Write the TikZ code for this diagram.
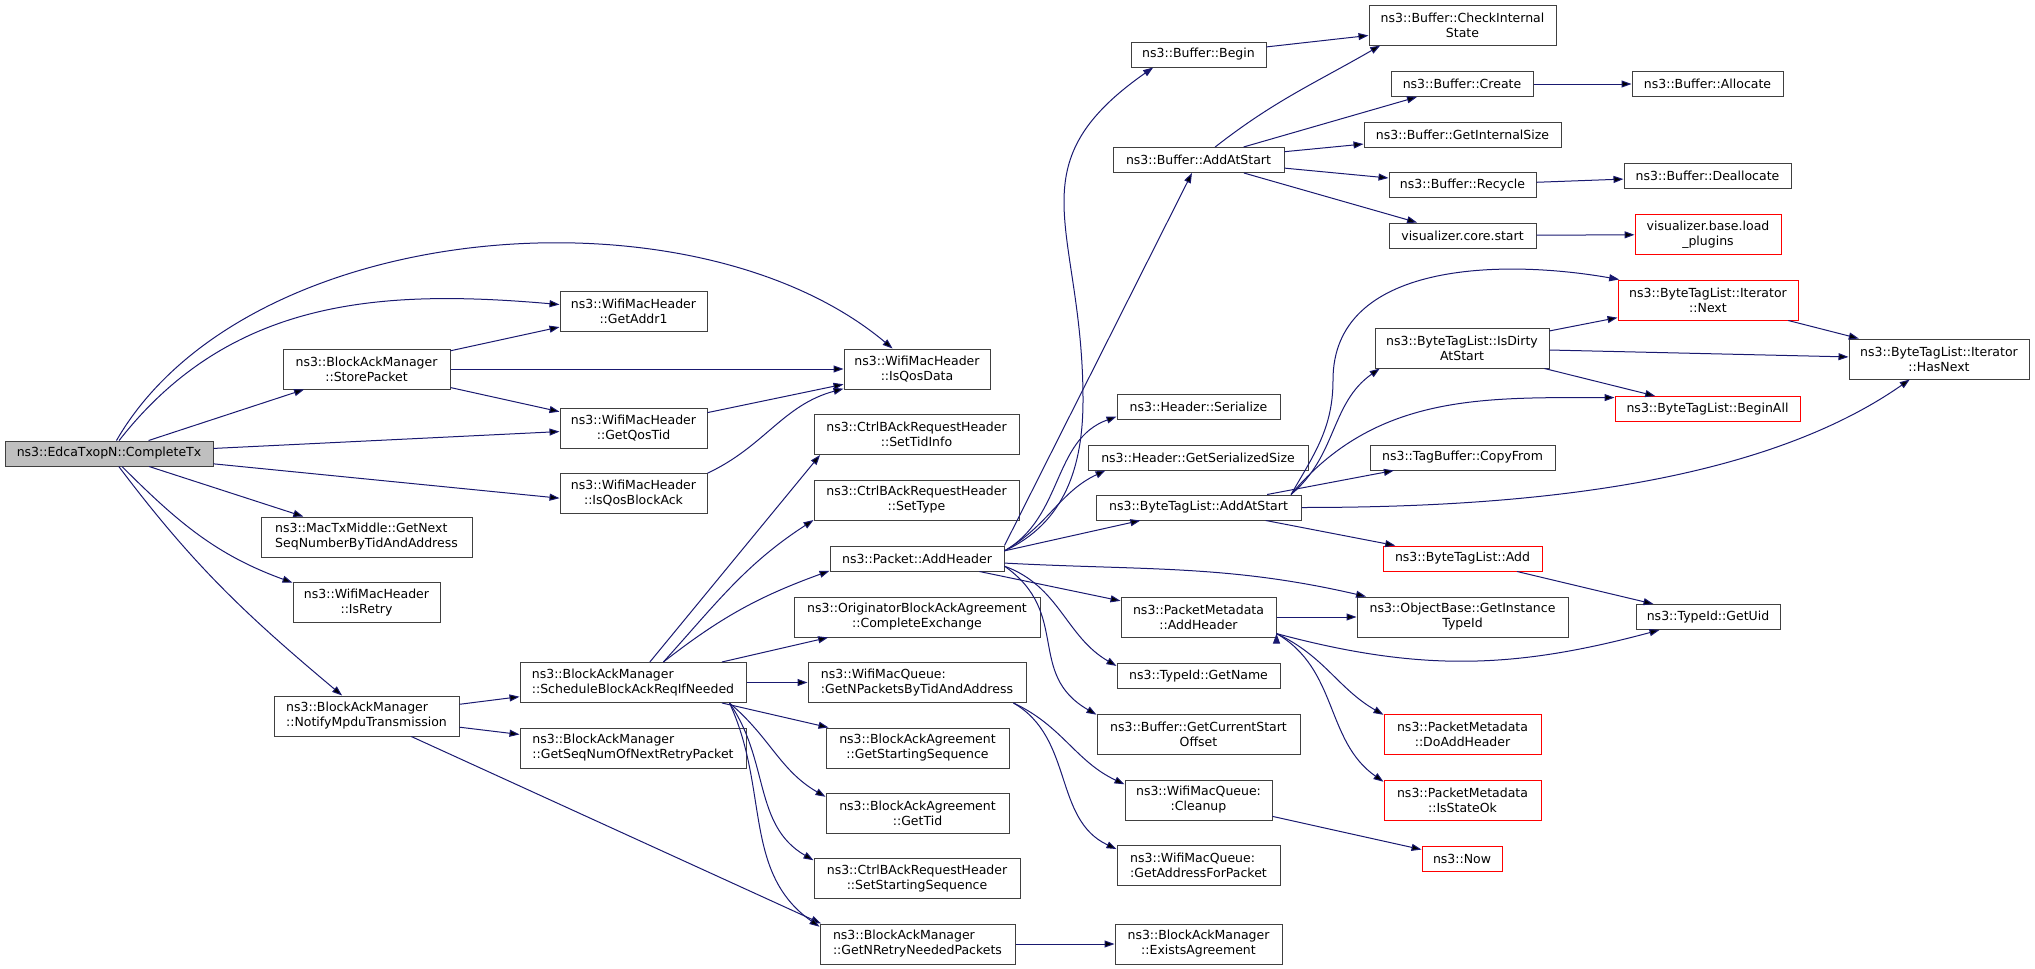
\documentclass[tikz,border=0pt]{standalone}
\usepackage{fontspec}
\setmainfont{DejaVu Sans}
\usetikzlibrary{arrows.meta, positioning, shapes}
\definecolor{edgeblue}{HTML}{191970}
\definecolor{boxline}{HTML}{404040}
\tikzset{->, >={Triangle[length=10pt,width=7pt]},
  func/.style={draw=boxline, line width=1pt, fill=white, minimum height=25pt, inner sep=1pt, align=center, font=\fontsize{12.5}{15}\selectfont},
  two/.style={func, minimum height=40pt},
  left/.style={align=left},
  missing/.style={draw=red},
  call/.style={draw=edgeblue, line width=1pt}}

\begin{document}
\begin{tikzpicture}[x=1pt, y=-1pt]
        \useasboundingbox (0,0) rectangle (2035,969);
        \node[func, fill=black!25, minimum width=208] (complete-tx) at (109,453.5) {ns3::EdcaTxopN::CompleteTx};
        \node[two, minimum width=167] (store-packet) at (366.5,369) {ns3::BlockAckManager\\::StorePacket};
        \node[two, minimum width=211, left] (next-seq) at (366.5,537) {ns3::MacTxMiddle::GetNext\\SeqNumberByTidAndAddress};
        \node[two, minimum width=147] (is-retry) at (366.5,602.5) {ns3::WifiMacHeader\\::IsRetry};
        \node[two, minimum width=185, left] (notify) at (366.5,716) {ns3::BlockAckManager\\::NotifyMpduTransmission};
        \node[two, minimum width=147] (get-addr1) at (633.5,311) {ns3::WifiMacHeader\\::GetAddr1};
        \node[two, minimum width=147] (get-qos-tid) at (633.5,428) {ns3::WifiMacHeader\\::GetQosTid};
        \node[two, minimum width=147] (is-qos-back) at (633.5,493) {ns3::WifiMacHeader\\::IsQosBlockAck};
        \node[two, minimum width=226, left] (schedule) at (633,682.5) {ns3::BlockAckManager\\::ScheduleBlockAckReqIfNeeded};
        \node[two, minimum width=226, left] (next-retry) at (633,748) {ns3::BlockAckManager\\::GetSeqNumOfNextRetryPacket};
        \node[two, minimum width=146] (is-qos-data) at (917,369) {ns3::WifiMacHeader\\::IsQosData};
        \node[two, minimum width=205] (set-tid-info) at (916.5,434.5) {ns3::CtrlBAckRequestHeader\\::SetTidInfo};
        \node[two, minimum width=205] (set-type) at (916.5,500) {ns3::CtrlBAckRequestHeader\\::SetType};
        \node[func, minimum width=174] (packet-add) at (917,558.5) {ns3::Packet::AddHeader};
        \node[two, minimum width=246] (complete-exchange) at (917,617) {ns3::OriginatorBlockAckAgreement\\::CompleteExchange};
        \node[two, minimum width=218, left] (get-npackets) at (917,682.5) {ns3::WifiMacQueue:\\:GetNPacketsByTidAndAddress};
        \node[two, minimum width=183] (starting-seq) at (917.5,748) {ns3::BlockAckAgreement\\::GetStartingSequence};
        \node[two, minimum width=183] (get-tid) at (917.5,813) {ns3::BlockAckAgreement\\::GetTid};
        \node[two, minimum width=206] (set-starting) at (917,878.5) {ns3::CtrlBAckRequestHeader\\::SetStartingSequence};
        \node[two, minimum width=195, left] (nretry) at (917.5,944) {ns3::BlockAckManager\\::GetNRetryNeededPackets};
        \node[func, minimum width=135] (buffer-begin) at (1198.5,54.5) {ns3::Buffer::Begin};
        \node[func, minimum width=171] (buffer-add) at (1198.5,160) {ns3::Buffer::AddAtStart};
        \node[func, minimum width=163] (serialize) at (1198.5,406.5) {ns3::Header::Serialize};
        \node[func, minimum width=220] (serialized-size) at (1198,457.5) {ns3::Header::GetSerializedSize};
        \node[func, minimum width=205] (btl-add-start) at (1198.5,507.5) {ns3::ByteTagList::AddAtStart};
        \node[two, minimum width=155] (pm-add-header) at (1198.5,617) {ns3::PacketMetadata\\::AddHeader};
        \node[func, minimum width=163] (get-name) at (1198.5,676) {ns3::TypeId::GetName};
        \node[two, minimum width=203] (current-start) at (1198.5,734.5) {ns3::Buffer::GetCurrentStart\\Offset};
        \node[two, minimum width=147] (cleanup) at (1198.5,800) {ns3::WifiMacQueue:\\:Cleanup};
        \node[two, minimum width=163, left] (address-packet) at (1198.5,865) {ns3::WifiMacQueue:\\:GetAddressForPacket};
        \node[two, minimum width=167] (exists) at (1198.5,944) {ns3::BlockAckManager\\::ExistsAgreement};
        \node[two, minimum width=187] (check-state) at (1462.5,25) {ns3::Buffer::CheckInternal\\State};
        \node[func, minimum width=142] (buffer-create) at (1462,84) {ns3::Buffer::Create};
        \node[func, minimum width=197] (internal-size) at (1462.5,134.5) {ns3::Buffer::GetInternalSize};
        \node[func, minimum width=147] (buffer-recycle) at (1462.5,185) {ns3::Buffer::Recycle};
        \node[func, minimum width=147] (core-start) at (1462.5,235.5) {visualizer.core.start};
        \node[two, minimum width=174] (is-dirty) at (1462,348) {ns3::ByteTagList::IsDirty\\AtStart};
        \node[func, minimum width=185] (copy-from) at (1462.5,457.5) {ns3::TagBuffer::CopyFrom};
        \node[func, missing, minimum width=159] (btl-add) at (1462.5,558.5) {ns3::ByteTagList::Add};
        \node[two, minimum width=211] (instance-typeid) at (1462.5,617) {ns3::ObjectBase::GetInstance\\TypeId};
        \node[two, missing, minimum width=157] (do-add-header) at (1462.5,734.5) {ns3::PacketMetadata\\::DoAddHeader};
        \node[two, missing, minimum width=157] (is-state-ok) at (1462.5,800) {ns3::PacketMetadata\\::IsStateOk};
        \node[func, missing, minimum width=80] (now) at (1462,858.5) {ns3::Now};
        \node[func, minimum width=151] (buffer-allocate) at (1707.5,84) {ns3::Buffer::Allocate};
        \node[func, minimum width=167] (buffer-deallocate) at (1707.5,176) {ns3::Buffer::Deallocate};
        \node[two, missing, minimum width=146] (load-plugins) at (1708,234.5) {visualizer.base.load\\\_plugins};
        \node[two, missing, minimum width=180] (iter-next) at (1708,300) {ns3::ByteTagList::Iterator\\::Next};
        \node[func, missing, minimum width=185] (begin-all) at (1707.5,409) {ns3::ByteTagList::BeginAll};
        \node[func, minimum width=144] (get-uid) at (1708,617) {ns3::TypeId::GetUid};
        \node[two, minimum width=180] (has-next) at (1939,359) {ns3::ByteTagList::Iterator\\::HasNext};
        \path[call] (complete-tx) edge[out=60, in=140, looseness=0.85] (is-qos-data)
            (complete-tx) edge[out=52, in=175] (get-addr1)
            (complete-tx) edge (store-packet)
            (complete-tx) edge (get-qos-tid)
            (complete-tx) edge (is-qos-back.-176)
            (complete-tx) edge (next-seq)
            (complete-tx) edge[out=-45, in=160] (is-retry.165)
            (complete-tx) edge[out=-53, in=140] (notify)
            (store-packet) edge (get-addr1)
            (store-packet) edge (is-qos-data)
            (store-packet) edge (get-qos-tid)
            (get-qos-tid) edge (is-qos-data)
            (is-qos-back.15) edge[out=25, in=-165] (is-qos-data)
            (notify) edge (schedule)
            (notify) edge (next-retry)
            (notify) edge (nretry.168)
            (schedule) edge (set-tid-info.-168)
            (schedule.34) edge[out=48, in=213] (set-type.-169)
            (schedule.34) edge[out=38, in=200] (packet-add.-172)
            (schedule) edge (complete-exchange)
            (schedule) edge (get-npackets)
            (schedule) edge (starting-seq)
            (schedule.-12) edge[out=-40, in=150] (get-tid.170)
            (schedule.-12) edge[out=-55, in=150] (set-starting.170)
            (schedule.-12) edge[out=-65, in=145] (nretry.170)
            (packet-add.north east) edge (buffer-add)
            (packet-add.5) edge[out=30, in=200] (serialize.-173)
            (packet-add.5) edge[out=30, in=205] (serialized-size.-172)
            (packet-add.5) edge (btl-add-start)
            (packet-add.-3) edge[out=-3, in=167] (instance-typeid.168)
            (packet-add) edge (pm-add-header)
            (packet-add.-5) edge[out=-20, in=150] (get-name.173)
            (packet-add.-5) edge[out=-35, in=150, looseness=1.2] (current-start.169)
            (get-npackets.-12) edge[out=-25, in=155] (cleanup.168)
            (get-npackets.-12) edge[out=-30, in=155] (address-packet.169)
            (cleanup) edge (now)
            (nretry) edge (exists)
            (buffer-begin) edge (check-state)
            (buffer-add) edge[out=38, in=210] (check-state.-166)
            (buffer-add) edge (buffer-create)
            (buffer-add) edge (internal-size)
            (buffer-add) edge (buffer-recycle)
            (buffer-add) edge (core-start)
            (buffer-create) edge (buffer-allocate)
            (buffer-recycle) edge (buffer-deallocate)
            (core-start) edge (load-plugins)
            (btl-add-start.8) edge[out=40, in=215] (is-dirty.-166)
            (btl-add-start.8) edge[out=50, in=180] (begin-all.173)
            (btl-add-start) edge (copy-from)
            (btl-add-start.east) edge[out=0, in=215, looseness=0.8] (has-next)
            (btl-add-start) edge (btl-add)
            (is-dirty) edge (iter-next)
            (is-dirty) edge (has-next)
            (is-dirty) edge (begin-all)
            (iter-next) edge (has-next)
            (btl-add) edge (get-uid)
            (pm-add-header) edge (instance-typeid)
            (pm-add-header.-12) edge[out=-15, in=195] (get-uid.-165)
            (pm-add-header.-12) edge[out=-25, in=150] (do-add-header.166)
            (pm-add-header.-12) edge[out=-30, in=145] (is-state-ok.167);
        \draw[call] (packet-add.5) to[out=25, in=-90] (1083,400) to[out=90, in=215, looseness=1.3] (buffer-begin.-164);
        \draw[call] (btl-add-start.8) to[out=60, in=-90] (1333,380) to[out=90, in=170] (iter-next.167);
    \end{tikzpicture}
\end{document}
